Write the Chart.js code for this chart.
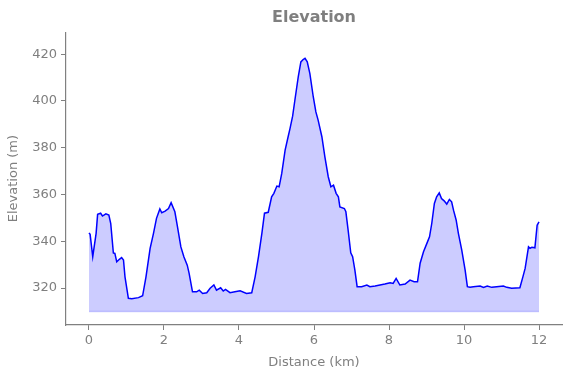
<!DOCTYPE html>
<html>
<head>
<meta charset="utf-8">
<script src="https://cdn.jsdelivr.net/npm/chart.js@4.4.1/dist/chart.umd.min.js"></script>
<style>
  html, body { margin: 0; padding: 0; background: #fff; }
  #wrap { width: 571px; height: 378px; }
</style>
</head>
<body>
<div id="wrap"><canvas id="elevationChart" width="571" height="378"></canvas></div>
<script>
// Profil d'altitude
const distanceKm = [
  0, 0.03, 0.1, 0.19, 0.23, 0.31, 0.36, 0.45, 0.53, 0.58, 0.65, 0.69, 0.74, 0.81, 0.87, 0.92, 0.96,
  1.05, 1.14, 1.32, 1.43, 1.52, 1.63, 1.72, 1.8, 1.89, 1.94, 2.03, 2.12, 2.19, 2.29, 2.36, 2.45,
  2.53, 2.62, 2.67, 2.76, 2.87, 2.94, 3.03, 3.14, 3.23, 3.33, 3.4, 3.51, 3.58, 3.64, 3.76, 3.89,
  4.03, 4.2, 4.34, 4.43, 4.52, 4.61, 4.68, 4.78, 4.87, 4.93, 5.01, 5.07, 5.14, 5.23, 5.31, 5.36,
  5.43, 5.49, 5.58, 5.65, 5.71, 5.76, 5.82, 5.89, 5.98, 6.05, 6.11, 6.21, 6.29, 6.38, 6.45, 6.52,
  6.59, 6.65, 6.69, 6.81, 6.85, 6.91, 6.98, 7.03, 7.09, 7.15, 7.27, 7.41, 7.49, 7.63, 7.76, 7.89,
  8.03, 8.11, 8.19, 8.29, 8.43, 8.56, 8.67, 8.76, 8.83, 8.92, 9.01, 9.08, 9.14, 9.21, 9.27, 9.34,
  9.4, 9.47, 9.54, 9.61, 9.67, 9.72, 9.79, 9.85, 9.94, 10.03, 10.09, 10.16, 10.25, 10.43, 10.52,
  10.62, 10.74, 10.87, 11.05, 11.14, 11.27, 11.49, 11.57, 11.63, 11.72, 11.76, 11.81, 11.89, 11.95, 12.0
];
const elevationM = [
  343.6, 343, 333.4, 343.4, 351.5, 352, 350.8, 351.7, 351.2, 347.6, 335, 334.8, 331.2, 332.3, 333, 332, 324.8,
  315.6, 315.4, 315.9, 316.7, 324.8, 337, 343.4, 349.8, 353.8, 352.2, 352.9, 354, 356.5, 352.6, 346.2, 337.6,
  333.4, 329.8, 326.3, 318.4, 318.4, 319.1, 317.7, 318, 319.9, 321.3, 319.1, 320.1, 318.7, 319.4, 318, 318.4,
  318.8, 317.7, 318, 324.8, 333.4, 343.4, 352, 352.4, 359, 360.5, 363.6, 363.3, 369, 379, 384.7, 388.2,
  393.5, 400.3, 410.3, 416.7, 417.7, 418.2, 416.7, 411.7, 401.8, 395.3, 391.8, 384.7, 376.1, 367.6, 363.3, 364,
  360.5, 359, 354.7, 354, 352.6, 344.8, 335.1, 333.4, 327.7, 320.6, 320.6, 321.3, 320.6, 320.9, 321.3, 321.7,
  322.3, 322, 324.1, 321.3, 321.7, 323.4, 322.7, 322.7, 330.6, 335.5, 339.1, 341.9, 347.6, 356.2, 359, 360.7,
  358.3, 357.3, 355.9, 357.9, 356.9, 353.3, 349.1, 343.4, 336.2, 327.7, 320.6, 320.3, 320.6, 320.9, 320.3,
  320.9, 320.3, 320.6, 320.9, 320.3, 319.9, 320.1, 324.8, 328.4, 337.6, 337, 337.4, 337.2, 346.9, 348.3
];
const baseElevation = 310;
const xTicks = [0, 2, 4, 6, 8, 10, 12];
const yTicks = [320, 340, 360, 380, 400, 420];

const textGray = '#7f7f7f';
const spineGray = '#808080';

const profilePoints = distanceKm.map((d, i) => ({ x: d, y: elevationM[i] }));
const basePoints = [
  { x: distanceKm[0], y: baseElevation },
  { x: distanceKm[distanceKm.length - 1], y: baseElevation }
];

new Chart(document.getElementById('elevationChart'), {
  type: 'line',
  data: {
    datasets: [
      {
        label: 'base',
        data: basePoints,
        borderColor: 'rgba(0, 0, 255, 0.18)',
        borderWidth: 1.5,
        pointRadius: 0,
        fill: false
      },
      {
        label: 'Elevation',
        data: profilePoints,
        borderColor: '#0000ff',
        borderWidth: 1.5,
        backgroundColor: 'rgba(0, 0, 255, 0.2)',
        pointRadius: 0,
        tension: 0,
        fill: { target: { value: baseElevation } }
      }
    ]
  },
  options: {
    responsive: false,
    animation: false,
    layout: { padding: { left: 0, right: 9, top: 0, bottom: 0 } },
    plugins: {
      legend: { display: false },
      tooltip: { enabled: false },
      title: {
        display: true,
        fullSize: false, // centré sur la zone du graphique
        text: 'Elevation',
        color: textGray,
        font: { family: 'DejaVu Sans', size: 16, weight: 'bold' },
        padding: { top: 8, bottom: 5 }
      }
    },
    scales: {
      x: {
        type: 'linear',
        min: -0.613,
        max: 12.613,
        afterBuildTicks: (scale) => { scale.ticks = xTicks.map(v => ({ value: v })); },
        afterFit: (scale) => { scale.height = 53; },
        border: { display: true, color: spineGray, width: 1.2 },
        grid: { drawOnChartArea: false, drawTicks: true, tickLength: 5, color: spineGray },
        ticks: { color: textGray, padding: 3, font: { family: 'DejaVu Sans', size: 13 }, maxRotation: 0 },
        title: {
          display: true,
          text: 'Distance (km)',
          color: textGray,
          font: { family: 'DejaVu Sans', size: 13 },
          padding: { top: 2, bottom: 8 }
        }
      },
      y: {
        min: 304.2,
        max: 429.4,
        afterBuildTicks: (scale) => { scale.ticks = yTicks.map(v => ({ value: v })); },
        afterFit: (scale) => { scale.width = 66; },
        border: { display: true, color: spineGray, width: 1.2 },
        grid: { drawOnChartArea: false, drawTicks: true, tickLength: 5, color: spineGray },
        ticks: { color: textGray, padding: 4, font: { family: 'DejaVu Sans', size: 13 } },
        title: {
          display: true,
          text: 'Elevation (m)',
          color: textGray,
          font: { family: 'DejaVu Sans', size: 13 },
          padding: { top: 6, bottom: 4 }
        }
      }
    }
  }
});
</script>
</body>
</html>
